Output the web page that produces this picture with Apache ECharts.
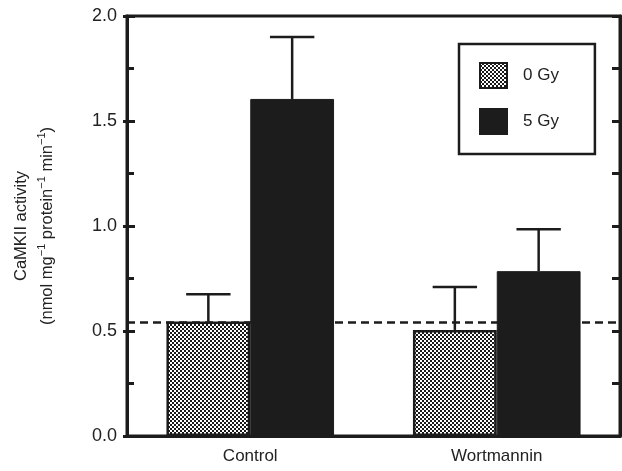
<!DOCTYPE html>
<html><head><meta charset="utf-8">
<script src="https://cdn.jsdelivr.net/npm/echarts@6/dist/echarts.min.js"></script>
<style>html,body{margin:0;padding:0;background:#fff}#c{width:622px;height:471px}</style>
</head><body><div id="c"></div>
<script>
const categories = ['Control', 'Wortmannin'];
const gy0 = [0.545, 0.505];
const gy5 = [1.605, 0.785];
const gy0Upper = [0.675, 0.71];
const gy5Upper = [1.90, 0.985];
const baseline = 0.54;
const yTicks = [0, 0.5, 1.0, 1.5, 2.0];

function hatch() {
  const c = document.createElement('canvas');
  c.width = 4; c.height = 4;
  const ctx = c.getContext('2d');
  const img = ctx.createImageData(4, 4);
  for (let y = 0; y < 4; y++) for (let x = 0; x < 4; x++) {
    const black = ((Math.floor(x / 2) + Math.floor(y / 2)) % 2) === 1;
    const v = black ? 25 : 255;
    const i = (y * 4 + x) * 4;
    img.data[i] = v; img.data[i+1] = v; img.data[i+2] = v; img.data[i+3] = 255;
  }
  ctx.putImageData(img, 0, 0);
  return c;
}
const pat = { image: hatch(), repeat: 'repeat' };
const INK = '#1c1c1c';
const TXT = '#222';
const font = 'Liberation Sans, Arial, sans-serif';

function errItem(offsetSign, uppers, values) {
  return {
    type: 'custom',
    z: 5,
    silent: true,
    data: values.map((v, i) => [i, v, uppers[i]]),
    renderItem: function (params, api) {
      const band = api.size([1, 0])[0];
      const c = api.coord([api.value(0), api.value(1)]);
      const t = api.coord([api.value(0), api.value(2)]);
      const x = c[0] + offsetSign * band * 0.17;
      const cap = band * 0.09;
      const st = { stroke: INK, lineWidth: 2.5 };
      return { type: 'group', children: [
        { type: 'line', shape: { x1: x, y1: c[1], x2: x, y2: t[1] }, style: st },
        { type: 'line', shape: { x1: x - cap, y1: t[1], x2: x + cap, y2: t[1] }, style: st }
      ]};
    }
  };
}

const chart = echarts.init(document.getElementById('c'));
chart.setOption({
  animation: false,
  backgroundColor: '#fff',
  grid: { left: 125, right: 2, top: 16, bottom: 35, show: true, borderColor: INK, borderWidth: 3 },
  legend: {
    data: [{ name: '0 Gy', icon: 'rect' }, { name: '5 Gy', icon: 'rect' }],
    orient: 'vertical', left: 459, top: 44,
    padding: [18, 36, 19, 20], itemGap: 19, itemWidth: 27, itemHeight: 25,
    borderColor: INK, borderWidth: 2.5, backgroundColor: '#fff',
    textStyle: { fontFamily: font, fontSize: 17, color: TXT, padding: [0, 0, 0, 11] },
    selectedMode: false
  },
  xAxis: {
    type: 'category', data: categories,
    axisLine: { lineStyle: { color: INK, width: 3 } },
    axisTick: { show: false },
    axisLabel: { fontFamily: font, fontSize: 17, color: TXT, margin: 12 }
  },
  yAxis: [
    {
      type: 'value', min: 0, max: 2, interval: 0.5,
      name: '{b|CaMKII activity}\n{b|(nmol mg}{s|\u22121}{b| protein}{s|\u22121}{b| min}{s|\u22121}{b|)}',
      nameLocation: 'middle', nameGap: 67,
      nameTextStyle: { fontFamily: font, fontSize: 16.5, color: TXT, lineHeight: 26,
        rich: {
          b: { fontFamily: font, fontSize: 16.5, color: TXT, lineHeight: 26 },
          s: { fontFamily: font, fontSize: 11, color: TXT, lineHeight: 12, padding: [0, 0, 10, 0] }
        }
      },
      axisLine: { show: true, lineStyle: { color: INK, width: 3 } },
      axisTick: { show: true, inside: true, length: 8, lineStyle: { color: INK, width: 3 } },
      minorTick: { show: true, splitNumber: 2, length: 7, lineStyle: { color: INK, width: 3 } },
      splitLine: { show: false },
      axisLabel: { fontFamily: font, fontSize: 18, color: TXT, margin: 10,
        formatter: v => yTicks.includes(v) ? v.toFixed(1) : '' }
    },
    {
      type: 'value', min: 0, max: 2, interval: 0.5, position: 'left',
      axisLine: { show: false },
      axisTick: { show: true, inside: false, length: 4, lineStyle: { color: INK, width: 3 } },
      axisLabel: { show: false }, splitLine: { show: false }
    },
    {
      type: 'value', min: 0, max: 2, interval: 0.5, position: 'right',
      axisLine: { show: true, lineStyle: { color: INK, width: 3 } },
      axisTick: { show: true, inside: true, length: 8, lineStyle: { color: INK, width: 3 } },
      minorTick: { show: true, splitNumber: 2, length: 8, lineStyle: { color: INK, width: 3 } },
      axisLabel: { show: false }, splitLine: { show: false }
    }
  ],
  series: [
    {
      name: '0 Gy', type: 'bar', data: gy0, barWidth: '34%', barGap: '0%',
      itemStyle: { color: pat, borderColor: INK, borderWidth: 2.5 },
      markLine: {
        silent: true, symbol: 'none', label: { show: false },
        lineStyle: { color: INK, width: 2.5, type: [8, 5] },
        data: [{ yAxis: baseline }]
      },
      z: 2
    },
    {
      name: '5 Gy', type: 'bar', data: gy5, barWidth: '34%', barGap: '0%',
      itemStyle: { color: INK, borderColor: INK, borderWidth: 1 }, z: 3
    },
    errItem(-1, gy0Upper, gy0),
    errItem(1, gy5Upper, gy5)
  ]
});
</script></body></html>
